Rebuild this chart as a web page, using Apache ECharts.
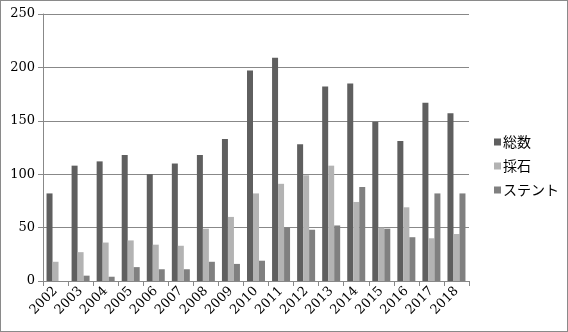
<!DOCTYPE html>
<html><head><meta charset="utf-8">
<script src="https://cdn.jsdelivr.net/npm/echarts@6/dist/echarts.min.js"></script>
<style>html,body{margin:0;padding:0;background:#fff}#c{width:568px;height:332px;box-sizing:border-box;border:1px solid #8a8a8a}</style>
</head><body><div id="c"></div>
<script>
const years = ['2002','2003','2004','2005','2006','2007','2008','2009','2010','2011','2012','2013','2014','2015','2016','2017','2018'];
const total = [82,108,112,118,100,110,118,133,197,209,128,182,185,149,131,167,157];
const saiseki = [18,27,36,38,34,33,49,60,82,91,99,108,74,50,69,40,44];
const stent = [0,5,4,13,11,11,18,16,19,50,48,52,88,49,41,82,82];
const yTicks = [0,50,100,150,200,250];

const chart = echarts.init(document.getElementById('c'), null, {renderer:'canvas'});
const serif = '"DejaVu Serif","Liberation Serif",serif';
chart.setOption({
  animation:false,
  grid:{left:42,right:98,top:13,bottom:50},
  legend:{
    orient:'vertical', left:488, top:129, itemWidth:7, itemHeight:7, itemGap:10,
    icon:'rect',
    textStyle:{fontFamily:'"Noto Sans CJK JP",sans-serif', fontSize:14, color:'#000', padding:[0,0,0,-3]},
    data:['総数','採石','ステント']
  },
  xAxis:{
    type:'category', data:years,
    axisLine:{lineStyle:{color:'#888'}},
    axisTick:{show:true, length:5, lineStyle:{color:'#888'}},
    axisLabel:{rotate:45, fontFamily:serif, fontSize:13, color:'#000', margin:8, interval:0}
  },
  yAxis:{
    type:'value', min:yTicks[0], max:yTicks[yTicks.length-1], interval:50,
    axisLine:{show:true, lineStyle:{color:'#888'}},
    axisTick:{show:true, length:5, lineStyle:{color:'#888'}},
    splitLine:{lineStyle:{color:'#888'}},
    axisLabel:{fontFamily:serif, fontSize:13, color:'#000', margin:8}
  },
  series:[
    {name:'総数', type:'bar', data:total, itemStyle:{color:'#5f5f5f'}, barWidth:6, barGap:'0%'},
    {name:'採石', type:'bar', data:saiseki, itemStyle:{color:'#b3b3b3'}, barWidth:6, barGap:'0%'},
    {name:'ステント', type:'bar', data:stent, itemStyle:{color:'#808080'}, barWidth:6, barGap:'0%'}
  ]
});
</script></body></html>
